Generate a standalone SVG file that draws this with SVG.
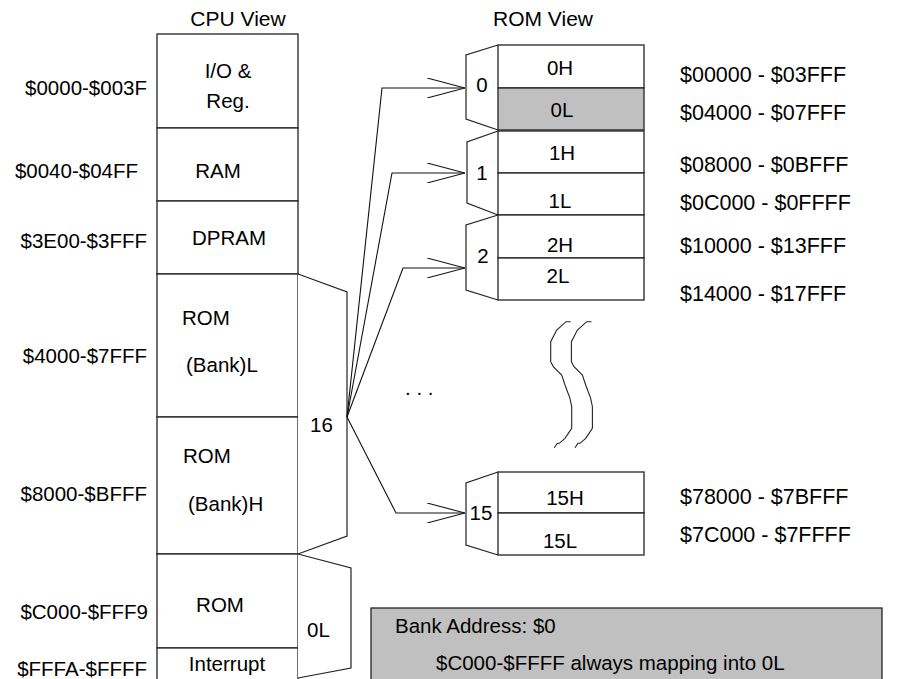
<svg xmlns="http://www.w3.org/2000/svg" width="901" height="679" viewBox="0 0 901 679">
<defs>
<style>
text{font-family:"Liberation Sans",Arial,sans-serif;font-size:20.5px;fill:#000}
.mid{text-anchor:middle}
.end{text-anchor:end}
.addr{font-size:21.5px}
.box{fill:#fff;stroke:#222;stroke-width:1.3}
.grey{fill:#c0c0c0;stroke:#222;stroke-width:1.3}
.ln{fill:none;stroke:#111;stroke-width:1.1}
.mux{fill:#fff;stroke:#222;stroke-width:1.2}
</style>
<marker id="openArrow" viewBox="0 0 38 20" refX="38" refY="10" markerWidth="38" markerHeight="20" markerUnits="userSpaceOnUse" orient="auto">
<path d="M0,0 L38,10 L0,20" fill="none" stroke="#111" stroke-width="1.1"/>
</marker>
</defs>
<rect width="901" height="679" fill="#fff"/>

<text x="238" y="26" class="mid" style="font-size:21px">CPU View</text>
<text x="543" y="26" class="mid" style="font-size:21px">ROM View</text>

<!-- CPU column -->
<g id="cpu-io"><rect class="box" x="157" y="34" width="141" height="94"/><text x="228" y="78" class="mid">I/O &amp;</text><text x="228" y="108" class="mid">Reg.</text><text x="147" y="95" class="end">$0000-$003F</text></g>
<g id="cpu-ram"><rect class="box" x="157" y="128" width="141" height="73"/><text x="218" y="178" class="mid">RAM</text><text x="138" y="178" class="end">$0040-$04FF</text></g>
<g id="cpu-dpram"><rect class="box" x="157" y="201" width="141" height="73"/><text x="229" y="245" class="mid">DPRAM</text><text x="147" y="248" class="end">$3E00-$3FFF</text></g>
<g id="cpu-rom-l"><rect class="box" x="157" y="274" width="141" height="143"/><text x="182" y="325">ROM</text><text x="186" y="372">(Bank)L</text><text x="147" y="363" class="end">$4000-$7FFF</text></g>
<g id="cpu-rom-h"><rect class="box" x="157" y="417" width="141" height="137"/><text x="183" y="463">ROM</text><text x="188" y="511">(Bank)H</text><text x="147" y="501" class="end">$8000-$BFFF</text></g>
<g id="cpu-rom-fixed"><rect class="box" x="157" y="554" width="141" height="94"/><text x="220" y="612" class="mid">ROM</text><text x="148" y="619" class="end">$C000-$FFF9</text></g>
<g id="cpu-interrupt"><rect class="box" x="157" y="648" width="141" height="50"/><text x="227" y="671" class="mid">Interrupt</text><text x="147" y="676" class="end">$FFFA-$FFFF</text></g>

<!-- selectors -->
<g id="mux-16"><path class="mux" d="M298,274 L347,292 L347,536 L298,554"/><text x="310" y="432">16</text></g>
<g id="mux-0l"><path class="mux" d="M298,554 L351,568 L351,668 L298,678"/><text x="307" y="637">0L</text></g>

<!-- ROM banks -->
<g id="bank-0">
<path class="mux" d="M498,45 L466,55 L466,119 L498,130"/><text x="482" y="92" class="mid">0</text>
<rect class="box" x="498" y="45" width="146" height="43"/><rect class="grey" x="498" y="88" width="146" height="42"/>
<text x="560" y="75" class="mid">0H</text><text x="562" y="117" class="mid">0L</text>
<text x="680" y="82" class="addr">$00000 - $03FFF</text><text x="680" y="120" class="addr">$04000 - $07FFF</text>
</g>
<g id="bank-1">
<path class="mux" d="M498,131 L467,142 L467,203 L498,215"/><text x="482" y="180" class="mid">1</text>
<rect class="box" x="498" y="131" width="146" height="42"/><rect class="box" x="498" y="173" width="146" height="42"/>
<text x="562" y="160" class="mid">1H</text><text x="560" y="208" class="mid">1L</text>
<text x="680" y="172" class="addr">$08000 - $0BFFF</text><text x="680" y="210" class="addr">$0C000 - $0FFFF</text>
</g>
<g id="bank-2">
<path class="mux" d="M498,215 L466,225 L466,290 L498,300"/><text x="483" y="263" class="mid">2</text>
<rect class="box" x="498" y="215" width="146" height="43"/><rect class="box" x="498" y="258" width="146" height="42"/>
<text x="560" y="252" class="mid">2H</text><text x="558" y="283" class="mid">2L</text>
<text x="680" y="253" class="addr">$10000 - $13FFF</text><text x="680" y="301" class="addr">$14000 - $17FFF</text>
</g>
<g id="bank-15">
<path class="mux" d="M498,472 L466,483 L466,545 L498,555"/><text x="481" y="520" class="mid">15</text>
<rect class="box" x="498" y="472" width="146" height="41"/><rect class="box" x="498" y="513" width="146" height="42"/>
<text x="565" y="505" class="mid">15H</text><text x="560" y="548" class="mid">15L</text>
<text x="680" y="504" class="addr">$78000 - $7BFFF</text><text x="680" y="542" class="addr">$7C000 - $7FFFF</text>
</g>

<!-- connectors -->
<g id="connectors">
<path class="ln" d="M347,417 L382,88 L465,88" marker-end="url(#openArrow)"/>
<path class="ln" d="M347,417 L392,173 L465,173" marker-end="url(#openArrow)"/>
<path class="ln" d="M347,417 L403,268 L465,268" marker-end="url(#openArrow)"/>
<path class="ln" d="M347,417 L396,513 L465,513" marker-end="url(#openArrow)"/>
</g>

<text x="405" y="395">. . .</text>

<!-- break symbol -->
<g id="break-symbol" fill="none" stroke="#222" stroke-width="1.1">
<path d="M570.7,321.7 L566,321.7 L556.7,330 L550.7,341.7 L550.7,361.7 L553.3,366.7 L561.7,375 L565,385 L570,398.3 L571.7,406.7 L571.7,428.3 L565,438.3 L559.3,443.3 L557.3,443.3 L554.3,447.7"/>
<path d="M570.7,321.7 L566,321.7 L556.7,330 L550.7,341.7 L550.7,361.7 L553.3,366.7 L561.7,375 L565,385 L570,398.3 L571.7,406.7 L571.7,428.3 L565,438.3 L559.3,443.3 L557.3,443.3 L554.3,447.7" transform="translate(20.7,0)"/>
</g>

<!-- note -->
<g id="note">
<rect class="grey" x="371" y="608" width="511" height="90"/>
<text x="395" y="633">Bank Address: $0</text>
<text x="436" y="670">$C000-$FFFF always mapping into 0L</text>
</g>
</svg>
